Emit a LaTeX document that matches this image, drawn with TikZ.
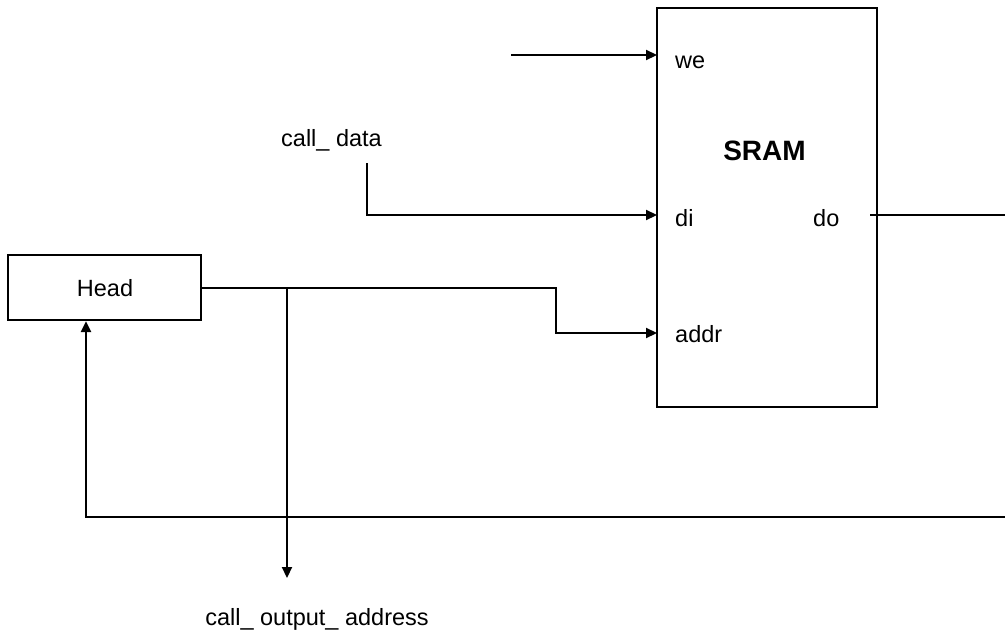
\documentclass[tikz,border=0pt]{standalone}
\usepackage{fontspec}
\setmainfont{Liberation Sans}
\usetikzlibrary{arrows.meta}
\begin{document}
\begin{tikzpicture}[x=1pt,y=-1pt,
  wire/.style={line width=2.2pt},
  arr/.style={wire,-{Triangle[length=11pt,width=10pt]}},
  box/.style={draw,line width=2.2pt,inner sep=0pt},
  lbl/.style={font=\fontsize{23.5}{26}\selectfont,inner sep=0pt}]
\useasboundingbox (0,0) rectangle (1005,632);
% boxes
\node[box,minimum width=220pt,minimum height=399pt] (sram) at (767,207.5) {};
\node[box,minimum width=193pt,minimum height=65pt] (head) at (104.5,287.5) {};
% labels
\node[lbl,anchor=base] (headtxt) at (105,296.5) {Head};
\node[lbl,anchor=base,font=\fontsize{28}{30}\selectfont\bfseries] (title) at (764.5,160) {SRAM};
\node[lbl,anchor=base west] (we) at (675,68) {we};
\node[lbl,anchor=base west] (di) at (675,226.5) {di};
\node[lbl,anchor=base west] (do) at (813,226.5) {do};
\node[lbl,anchor=base west] (addr) at (675,342) {addr};
\node[lbl,anchor=base] (cdata) at (331.5,146.5) {call\_ data};
\node[lbl,anchor=base] (cout) at (317,625) {call\_ output\_ address};
% coordinates
\coordinate (weS) at (511,55);
\coordinate (weE) at (657,55);
\coordinate (diS) at (367,163);
\coordinate (diE) at (657,215);
\coordinate (doS) at (870,215);
\coordinate (doE) at (1005,215);
\coordinate (addrE) at (657,333);
\coordinate (br) at (287,288);
\coordinate (outE) at (287,578);
\coordinate (fbS) at (1005,517);
% wires
\draw[arr] (weS) -- (weE);
\draw[arr] (diS) |- (diE);
\draw[wire] (doS) -- (doE);
\draw[arr] (head.east |- br) -- (556,288) |- (addrE);
\draw[arr] (br) -- (outE);
\draw[arr] (fbS) -| (head.south -| 86,0);
\end{tikzpicture}
\end{document}
